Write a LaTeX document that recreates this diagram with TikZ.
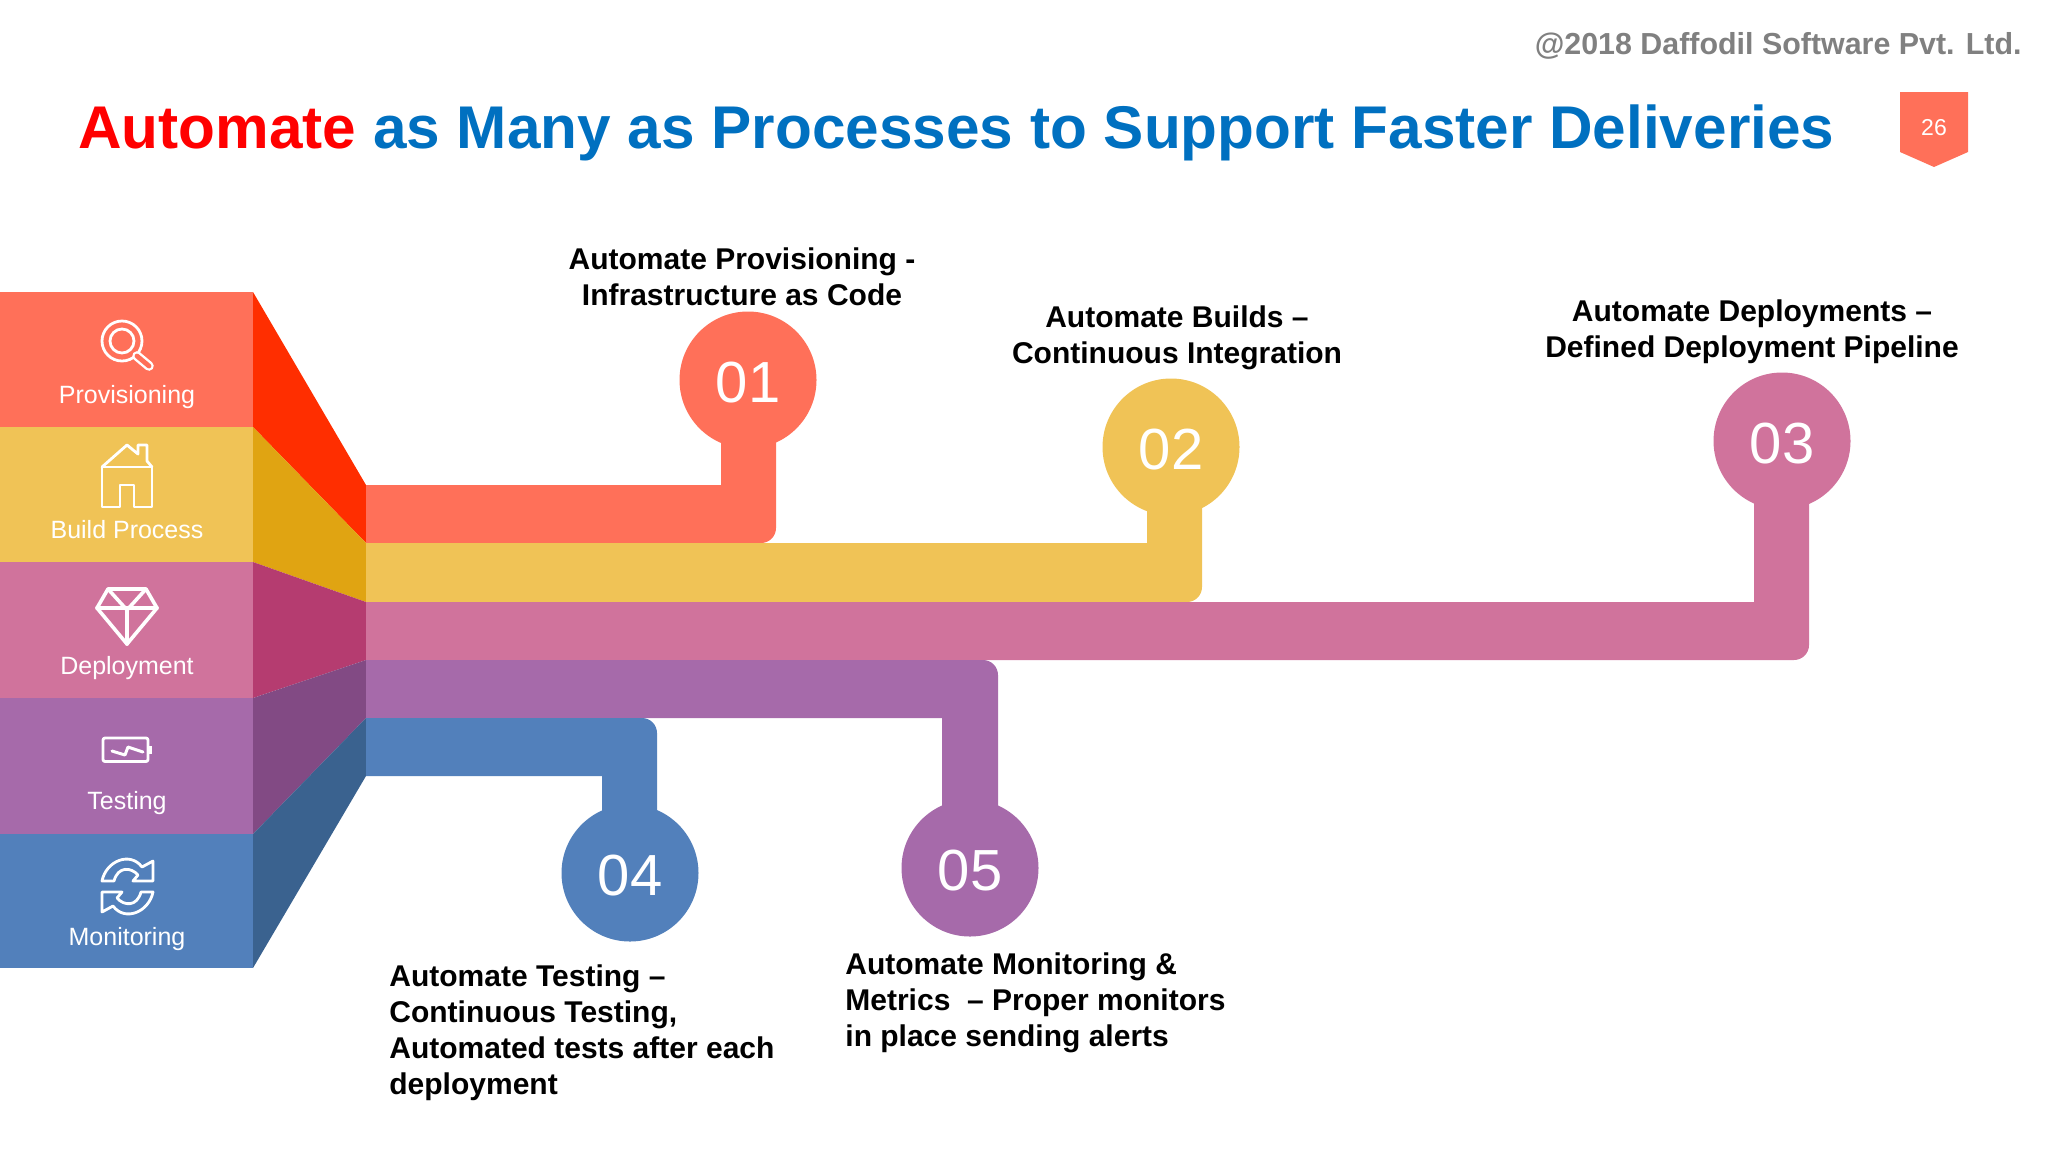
\documentclass[tikz,border=0pt]{standalone}
\usepackage{fontspec}
\setmainfont{Liberation Sans}
\definecolor{coral}{HTML}{FF7059}
\definecolor{coraldark}{HTML}{FF2E00}
\definecolor{sand}{HTML}{F0C356}
\definecolor{sanddark}{HTML}{E0A412}
\definecolor{rose}{HTML}{D0739C}
\definecolor{rosedark}{HTML}{B53C70}
\definecolor{plum}{HTML}{A66AAA}
\definecolor{plumdark}{HTML}{824A84}
\definecolor{steel}{HTML}{5280BB}
\definecolor{steeldark}{HTML}{3A628F}
\definecolor{titleblue}{HTML}{0070C0}
\tikzset{
    stepcircle/.style={circle,inner sep=0pt,minimum size=68.5pt,text=white,font=\fontsize{29}{29}\selectfont},
    bandlabel/.style={text=white,font=\fontsize{12.5}{15}\selectfont},
    steplabel/.style={align=center,font=\fontsize{15}{18}\selectfont\bfseries,text=black},
    steplabelleft/.style={align=left,anchor=west,inner sep=0pt,font=\fontsize{15}{18}\selectfont\bfseries,text=black},
    icon/.style={draw=white,line width=1.4pt,line join=round,line cap=round}
}
\newcommand{\stepnum}[1]{\raisebox{-11pt}[0pt][0pt]{#1}}
\begin{document}
\begin{tikzpicture}[x=0.5pt,y=-0.5pt]
    \useasboundingbox (0,0) rectangle (2048,1152);

    % title and page mark
    \node[anchor=east,inner sep=0pt,text=black!50,font=\fontsize{15.2}{15.2}\selectfont\bfseries] (copyright) at (2022,46) {@2018 Daffodil Software Pvt. Ltd.};
    \node[anchor=west,inner sep=0pt,text=titleblue,font=\fontsize{30.15}{30.15}\selectfont\bfseries] (title) at (78,133) {\textcolor{red}{Automate} as Many as Processes to Support Faster Deliveries};
    \fill[coral] (1900,92) -- (1968,92) -- (1968,152) -- (1934,167) -- (1900,152) -- cycle;
    \node[text=white,font=\fontsize{11.5}{11.5}\selectfont] (page) at (1934,128) {26};

    % left bands
    \fill[coral] (0,292) rectangle (253,427);
    \fill[sand] (0,427) rectangle (253,562);
    \fill[rose] (0,562) rectangle (253,698);
    \fill[plum] (0,698) rectangle (253,834);
    \fill[steel] (0,834) rectangle (253,968);

    % folded part
    \fill[coraldark] (253,292) -- (366,485) -- (366,543) -- (253,427) -- cycle;
    \fill[sanddark] (253,427) -- (366,543) -- (366,602) -- (253,562) -- cycle;
    \fill[rosedark] (253,562) -- (366,602) -- (366,660) -- (253,698) -- cycle;
    \fill[plumdark] (253,698) -- (366,660) -- (366,718) -- (253,834) -- cycle;
    \fill[steeldark] (253,834) -- (366,718) -- (366,776) -- (253,968) -- cycle;

    % circles
    \node[stepcircle,fill=coral] (c01) at (748,380) {\stepnum{01}};
    \node[stepcircle,fill=sand] (c02) at (1171,447) {\stepnum{02}};
    \node[stepcircle,fill=rose] (c03) at (1782,441) {\stepnum{03}};
    \node[stepcircle,fill=steel] (c04) at (630,873) {\stepnum{04}};
    \node[stepcircle,fill=plum] (c05) at (970,868) {\stepnum{05}};

    % bars
    \fill[coral] (366,485) -- (721,485) -- (721,430) -- (776,430) [rounded corners=7.5pt] -- (776,543) [sharp corners] -- (366,543) -- cycle;
    \fill[sand] (366,543) -- (1147,543) -- (1147,500) -- (1202,500) [rounded corners=7.5pt] -- (1202,602) [sharp corners] -- (366,602) -- cycle;
    \fill[rose] (366,602) -- (1754,602) -- (1754,495) -- (1809,495) [rounded corners=7.5pt] -- (1809,660) [sharp corners] -- (366,660) -- cycle;
    \fill[plum] (366,718) -- (942,718) -- (942,820) -- (998,820) [rounded corners=7.5pt] -- (998,660) [sharp corners] -- (366,660) -- cycle;
    \fill[steel] (366,776) -- (602,776) -- (602,825) -- (657,825) [rounded corners=7.5pt] -- (657,718) [sharp corners] -- (366,718) -- cycle;

    % step texts
    \node[steplabel] (t01) at (742,277) {Automate Provisioning -\\Infrastructure as Code};
    \node[steplabel] (t02) at (1177,337.5) {Automate Builds --\\Continuous Integration};
    \node[steplabel] (t03) at (1752,331.5) {Automate Deployments --\\Defined Deployment Pipeline};
    \node[steplabelleft] (t04) at (389,1033) {Automate Testing --\\Continuous Testing,\\Automated tests after each\\deployment};
    \node[steplabelleft] (t05) at (845,1003) {Automate Monitoring \&\\Metrics~ -- Proper monitors\\in place sending alerts};

    % band texts
    \node[bandlabel] (l01) at (127,397.5) {Provisioning};
    \node[bandlabel] (l02) at (127,530) {Build Process};
    \node[bandlabel] (l03) at (127,668.5) {Deployment};
    \node[bandlabel] (l04) at (127,803) {Testing};
    \node[bandlabel] (l05) at (127,939.5) {Monitoring};

    % icons
    \draw[icon] (122,341) circle[radius=20];
    \draw[icon] (122,341) circle[radius=12];
    \draw[icon,line width=1.2pt,double=coral,double distance=2.4pt] (137,356) -- (149,366);

    \draw[icon] (120,507) -- (120,485) -- (134,485) -- (134,507) -- (152,507) -- (152,467) -- (102,467) -- (102,507) -- cycle;
    \draw[icon] (102,467) -- (127,445) -- (138,454) -- (138,445) -- (147,445) -- (147,461) -- (152,467);

    \draw[icon,line width=1.8pt] (108,589) -- (146,589) -- (157,608) -- (127,644) -- (97,608) -- cycle;
    \draw[icon,line width=1.8pt] (97,608) -- (157,608);
    \draw[icon,line width=1.8pt] (108,589) -- (127,610) -- (146,589);
    \draw[icon,line width=1.8pt] (127,610) -- (127,644);

    \draw[icon,rounded corners=1pt] (103,738) rectangle (148,761.5);
    \fill[white] (148,746) rectangle (152,754);
    \draw[icon,line width=1.5pt] (112,751) -- (125,755) -- (128,747) -- (143,752);

    \draw[icon] (102,881) .. controls (106,861) and (130,851) .. (142,867) -- (153,861) -- (153,881) -- (133,881) -- (138,875) .. controls (131,867) and (118,866) .. (114,881) -- cycle;
    \draw[icon,rotate around={180:(127.5,886.5)}] (102,881) .. controls (106,861) and (130,851) .. (142,867) -- (153,861) -- (153,881) -- (133,881) -- (138,875) .. controls (131,867) and (118,866) .. (114,881) -- cycle;
\end{tikzpicture}
\end{document}
